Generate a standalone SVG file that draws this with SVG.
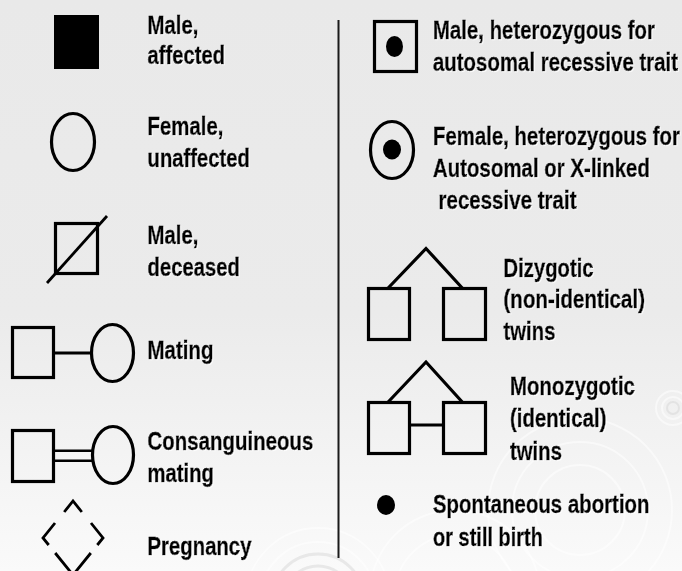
<svg xmlns="http://www.w3.org/2000/svg" width="682" height="571" viewBox="0 0 682 571">
<defs>
<linearGradient id="bg" x1="0" y1="0" x2="0" y2="1">
<stop offset="0" stop-color="#e9e9e9"/>
<stop offset="0.55" stop-color="#ebebeb"/>
<stop offset="1" stop-color="#fafafa"/>
</linearGradient>
<filter id="sh" x="-10%" y="-30%" width="120%" height="160%">
<feDropShadow dx="1" dy="1" stdDeviation="0.5" flood-color="#ffffff" flood-opacity="0.9"/>
</filter>
<style>
.t{font-family:"Liberation Sans",Arial,sans-serif;font-weight:bold;font-size:25px;fill:#000;stroke:#000;stroke-width:0.55;filter:url(#sh)}
.s{fill:none;stroke:#000;stroke-width:3.2}
.p{fill:none;stroke:#000;stroke-width:2.8;stroke-linejoin:miter}
.d{fill:#000}
.rw{fill:none;stroke:#ffffff;stroke-width:2;opacity:0.5}
.rg{fill:none;stroke:#d2d2d2;stroke-width:3;opacity:0.45}
</style>
</defs>
<rect x="0" y="0" width="682" height="571" fill="url(#bg)"/>
<g id="ripples">
<circle class="rg" cx="318" cy="600" r="22"/>
<circle class="rg" cx="318" cy="600" r="34"/>
<circle class="rg" cx="318" cy="600" r="46"/>
<circle class="rw" cx="318" cy="600" r="58"/>
<circle class="rw" cx="318" cy="600" r="72"/>
<circle class="rw" cx="580" cy="510" r="45"/>
<circle class="rw" cx="580" cy="510" r="68"/>
<circle class="rw" cx="580" cy="510" r="92"/>
<circle class="rw" cx="455" cy="595" r="60"/>
<circle class="rw" cx="455" cy="595" r="85"/>
<circle class="rg" cx="673" cy="408" r="6" style="stroke-width:2"/>
<circle class="rw" cx="673" cy="408" r="11"/>
<circle class="rw" cx="673" cy="408" r="17"/>
</g>
<g id="divider"><line x1="338.5" y1="20" x2="338.5" y2="558" stroke="#1a1a1a" stroke-width="2"/></g>

<g id="male-affected">
<rect x="54" y="15" width="45" height="54" class="d"/>
<text class="t" transform="matrix(0.82,0,0,1,147.5,33.5)" textLength="62.2" lengthAdjust="spacingAndGlyphs">Male,</text>
<text class="t" transform="matrix(0.82,0,0,1,147.5,64)" textLength="94.5" lengthAdjust="spacingAndGlyphs">affected</text>
</g>
<g id="female-unaffected">
<ellipse cx="73" cy="142" rx="21.5" ry="28.5" class="s"/>
<text class="t" transform="matrix(0.82,0,0,1,147.5,135)" textLength="92.7" lengthAdjust="spacingAndGlyphs">Female,</text>
<text class="t" transform="matrix(0.82,0,0,1,147.5,167)" textLength="125" lengthAdjust="spacingAndGlyphs">unaffected</text>
</g>
<g id="male-deceased">
<rect x="55.5" y="223.5" width="42" height="50" class="s"/>
<line x1="47" y1="283" x2="107" y2="216" stroke="#000" stroke-width="2.8"/>
<text class="t" transform="matrix(0.82,0,0,1,147.5,244)" textLength="62.2" lengthAdjust="spacingAndGlyphs">Male,</text>
<text class="t" transform="matrix(0.82,0,0,1,147.5,276)" textLength="112.8" lengthAdjust="spacingAndGlyphs">deceased</text>
</g>
<g id="mating">
<rect x="12.5" y="327.5" width="41" height="50" class="s"/>
<ellipse cx="112.5" cy="353" rx="21" ry="28.5" class="s"/>
<text class="t" transform="matrix(0.82,0,0,1,147.5,359)" textLength="80.5" lengthAdjust="spacingAndGlyphs">Mating</text>
</g>
<g id="consanguineous">
<rect x="12.5" y="430.5" width="41" height="51" class="s"/>
<ellipse cx="113" cy="455" rx="20.5" ry="28.5" class="s"/>
<text class="t" transform="matrix(0.82,0,0,1,147.5,450)" textLength="202.4" lengthAdjust="spacingAndGlyphs">Consanguineous</text>
<text class="t" transform="matrix(0.82,0,0,1,147.5,482)" textLength="81.1" lengthAdjust="spacingAndGlyphs">mating</text>
</g>
<g id="pregnancy">
<polyline class="p" points="64.2,512 73,501 81.8,512"/>
<polyline class="p" points="55,523 43,538 48.7,545"/>
<polyline class="p" points="91,523 103,538 97.3,545"/>
<polyline class="p" points="55.2,553 73,575 90.8,553"/>
<text class="t" transform="matrix(0.82,0,0,1,147.5,555)" textLength="126.8" lengthAdjust="spacingAndGlyphs">Pregnancy</text>
</g>

<g id="male-heterozygous">
<rect x="374.5" y="21.5" width="42" height="50" class="s"/>
<ellipse cx="394.5" cy="46.5" rx="8.5" ry="10.5" class="d"/>
<text class="t" transform="matrix(0.82,0,0,1,433,39)" textLength="270.7" lengthAdjust="spacingAndGlyphs">Male, heterozygous for</text>
<text class="t" transform="matrix(0.82,0,0,1,433,70.5)" textLength="298.8" lengthAdjust="spacingAndGlyphs">autosomal recessive trait</text>
</g>
<g id="female-heterozygous">
<ellipse cx="392" cy="150" rx="21.5" ry="28.5" class="s"/>
<ellipse cx="392" cy="149.5" rx="9" ry="10" class="d"/>
<text class="t" transform="matrix(0.82,0,0,1,433,145)" textLength="301.2" lengthAdjust="spacingAndGlyphs">Female, heterozygous for</text>
<text class="t" transform="matrix(0.82,0,0,1,433,177)" textLength="264.6" lengthAdjust="spacingAndGlyphs">Autosomal or X-linked</text>
<text class="t" transform="matrix(0.82,0,0,1,438.5,209)" textLength="168.3" lengthAdjust="spacingAndGlyphs">recessive trait</text>
</g>
<g id="dizygotic-twins">
<polyline class="s" points="387.7,288.5 426,248.5 462.7,288.5"/>
<rect x="368.5" y="288.5" width="41" height="51" class="s"/>
<rect x="443.5" y="288.5" width="42" height="51" class="s"/>
<text class="t" transform="matrix(0.82,0,0,1,503.5,277)" textLength="109.8" lengthAdjust="spacingAndGlyphs">Dizygotic</text>
<text class="t" transform="matrix(0.82,0,0,1,503.5,308)" textLength="172.6" lengthAdjust="spacingAndGlyphs">(non-identical)</text>
<text class="t" transform="matrix(0.82,0,0,1,503.5,340)" textLength="63.4" lengthAdjust="spacingAndGlyphs">twins</text>
</g>
<g id="monozygotic-twins">
<polyline class="s" points="387.7,402.5 426,362 462.7,402.5"/>
<rect x="368.5" y="402.5" width="41" height="51" class="s"/>
<rect x="443.5" y="402.5" width="42" height="51" class="s"/>
<line x1="410" y1="425" x2="443" y2="425" stroke="#000" stroke-width="3.2"/>
<text class="t" transform="matrix(0.82,0,0,1,510,395)" textLength="152.4" lengthAdjust="spacingAndGlyphs">Monozygotic</text>
<text class="t" transform="matrix(0.82,0,0,1,510,427)" textLength="117.7" lengthAdjust="spacingAndGlyphs">(identical)</text>
<text class="t" transform="matrix(0.82,0,0,1,510,459.5)" textLength="63.4" lengthAdjust="spacingAndGlyphs">twins</text>
</g>
<g id="spontaneous-abortion">
<ellipse cx="386" cy="505" rx="9" ry="10" class="d"/>
<text class="t" transform="matrix(0.82,0,0,1,433,513.3)" textLength="264" lengthAdjust="spacingAndGlyphs">Spontaneous abortion</text>
<text class="t" transform="matrix(0.82,0,0,1,433,545.5)" textLength="134.1" lengthAdjust="spacingAndGlyphs">or still birth</text>
</g>

<g id="connectors">
<line x1="55" y1="353" x2="91.5" y2="353" stroke="#000" stroke-width="3.2"/>
<line x1="55" y1="450.7" x2="92.5" y2="450.7" stroke="#000" stroke-width="2.6"/>
<line x1="55" y1="460.7" x2="92.5" y2="460.7" stroke="#000" stroke-width="2.6"/>
</g>
</svg>
